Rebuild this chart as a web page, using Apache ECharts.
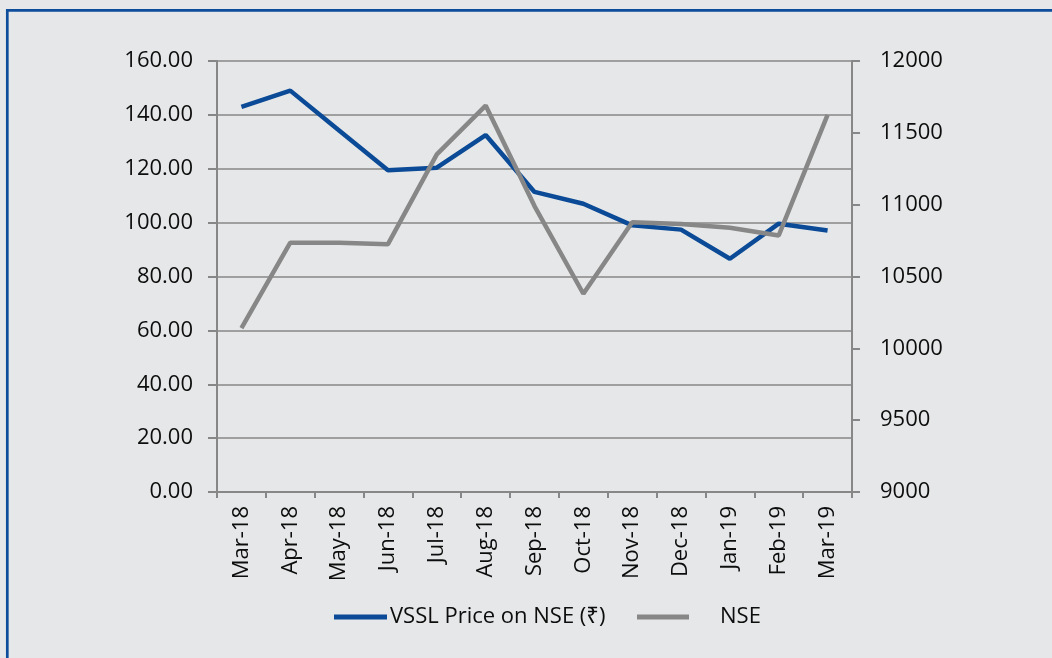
<!DOCTYPE html>
<html>
<head>
<meta charset="utf-8">
<script src="https://cdn.jsdelivr.net/npm/echarts@6/dist/echarts.min.js"></script>
<style>
html,body{margin:0;padding:0;background:#e6e7e8;}
#chart{width:1052px;height:658px;}
</style>
</head>
<body>
<div id="chart"></div>
<script>
var categories = ['Mar-18','Apr-18','May-18','Jun-18','Jul-18','Aug-18','Sep-18','Oct-18','Nov-18','Dec-18','Jan-19','Feb-19','Mar-19'];
var vsslPrice = [143.0, 149.0, 134.2, 119.4, 120.4, 132.5, 111.4, 107.0, 99.0, 97.4, 86.6, 99.6, 97.1];
var nseIndex = [10140, 10735, 10735, 10725, 11350, 11690, 10990, 10380, 10878, 10866, 10840, 10786, 11625];
var leftTicks = {min: 0, max: 160, interval: 20};
var rightTicks = {min: 9000, max: 12000, interval: 500};
var seriesNames = ['VSSL Price on NSE (\u20B9)', 'NSE'];

var FONT = "'Open Sans', 'Noto Sans', 'DejaVu Sans', sans-serif";
var GRID = '#878787';
var TXT = '#0d0d0d';
var chart = echarts.init(document.getElementById('chart'), null, {renderer: 'canvas'});
chart.setOption({
  backgroundColor: '#e6e7e8',
  animation: false,
  textStyle: {fontFamily: FONT},
  graphic: [{
    type: 'rect', silent: true,
    shape: {x: 7.3, y: 10.3, width: 1200, height: 800},
    style: {fill: 'none', stroke: '#0d4d9c', lineWidth: 2.7}
  }],
  grid: {left: 217, right: 200, top: 61, bottom: 166, containLabel: false},
  legend: [{
    data: [seriesNames[0]], left: 329, top: 601,
    icon: 'rect', itemWidth: 53, itemHeight: 5, itemGap: 0,
    textStyle: {fontFamily: FONT, fontSize: 22, color: TXT, padding: [0, 0, 0, -2]}
  }, {
    data: [seriesNames[1]], left: 632, top: 601,
    icon: 'rect', itemWidth: 52, itemHeight: 5, itemGap: 0,
    textStyle: {fontFamily: FONT, fontSize: 22, color: TXT, padding: [0, 0, 0, 26]}
  }],
  xAxis: {
    type: 'category', data: categories, boundaryGap: true,
    axisLine: {show: true, lineStyle: {color: GRID, width: 2}},
    axisTick: {show: true, length: 6, lineStyle: {color: GRID, width: 2}},
    axisLabel: {rotate: 90, margin: 14, interval: 0, fontSize: 22, color: TXT, fontFamily: FONT}
  },
  yAxis: [{
    type: 'value', min: leftTicks.min, max: leftTicks.max, interval: leftTicks.interval, position: 'left',
    axisLine: {show: true, lineStyle: {color: GRID, width: 2}},
    axisTick: {show: true, length: 9, lineStyle: {color: GRID, width: 2}},
    axisLabel: {margin: 24, fontSize: 22, color: TXT, fontFamily: FONT,
      formatter: function (v) { return v.toFixed(2); }},
    splitLine: {show: true, lineStyle: {color: GRID, width: 1.7}}
  }, {
    type: 'value', min: rightTicks.min, max: rightTicks.max, interval: rightTicks.interval, position: 'right',
    axisLine: {show: true, lineStyle: {color: GRID, width: 2}},
    axisTick: {show: true, length: 8, lineStyle: {color: GRID, width: 2}},
    axisLabel: {margin: 28, fontSize: 22, color: TXT, fontFamily: FONT,
      formatter: function (v) { return String(v); }},
    splitLine: {show: false}
  }],
  series: [{
    name: seriesNames[0], type: 'line', yAxisIndex: 0, data: vsslPrice,
    symbol: 'none', color: '#0a4a96',
    lineStyle: {width: 4.5, color: '#0a4a96'}
  }, {
    name: seriesNames[1], type: 'line', yAxisIndex: 1, data: nseIndex,
    symbol: 'none', color: '#878787',
    lineStyle: {width: 4.5, color: '#878787'}
  }]
});
</script>
</body>
</html>
